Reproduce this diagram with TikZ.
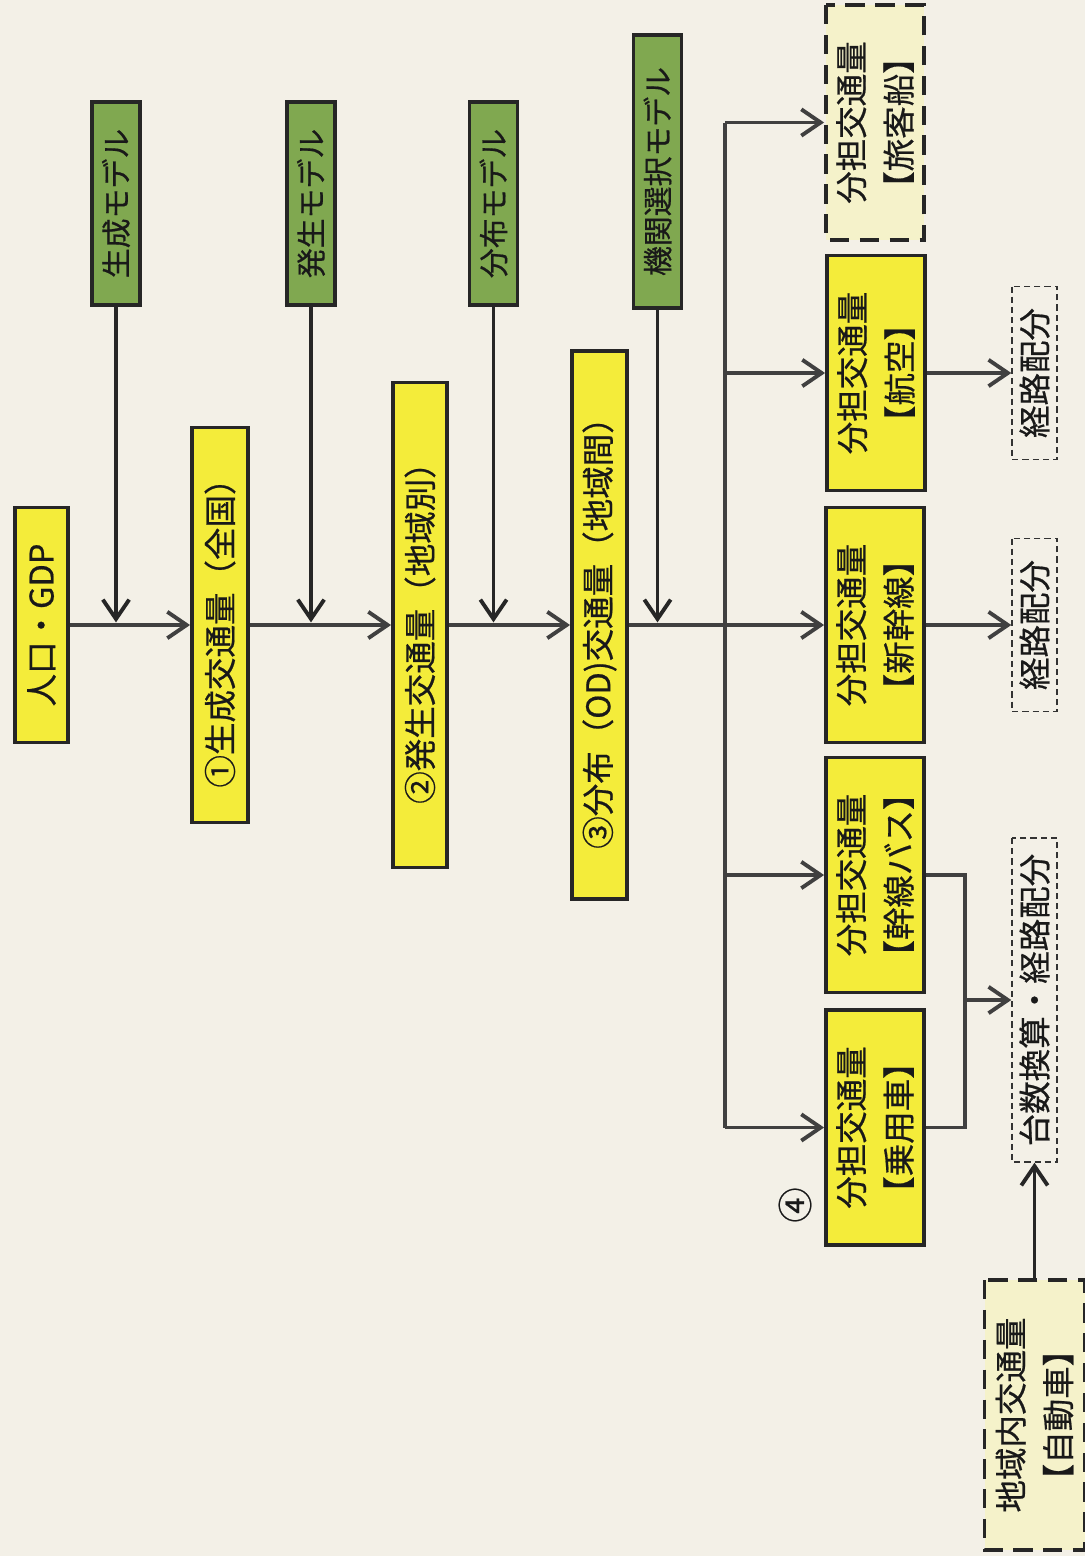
\documentclass[tikz,border=0pt]{standalone}
\usepackage{fontspec}
\setmainfont{Noto Sans CJK JP}[BoldFont=Noto Sans CJK JP,BoldFeatures={FakeBold=0.6}]
\usepackage{xcolor}
\usetikzlibrary{arrows.meta}

\definecolor{paper}{RGB}{243,240,231}
\definecolor{boxyellow}{RGB}{244,236,58}
\definecolor{paleyellow}{RGB}{245,242,202}
\definecolor{modelgreen}{RGB}{128,168,80}
\definecolor{linegray}{RGB}{64,64,64}

\begin{document}
\begin{tikzpicture}[x=0.02cm,y=-0.02cm,
  every node/.style={rotate=90,inner sep=0pt,align=center,text=black!90},
  ybox/.style={draw=black!85,line width=2.2pt,fill=boxyellow,
    font=\fontsize{18.5}{27}\selectfont\bfseries},
  gbox/.style={draw=black!85,line width=2.2pt,fill=modelgreen,
    minimum height=0.96cm,minimum width=4.06cm,font=\fontsize{17}{20}\selectfont\bfseries},
  modebox/.style={ybox,minimum height=1.96cm,minimum width=4.7cm},
  pbox/.style={draw=black!85,line width=2.2pt,dash pattern=on 11pt off 6pt,
    fill=paleyellow,minimum height=1.96cm,minimum width=4.7cm,
    font=\fontsize{18.5}{27}\selectfont\bfseries},
  rbox/.style={draw=black!80,line width=0.8pt,dash pattern=on 3.5pt off 2.3pt,
    fill=paper,minimum height=0.9cm,font=\fontsize{18.5}{22}\selectfont\bfseries},
  conn/.style={draw=linegray,line width=2.2pt},
  arr/.style={conn,-{Straight Barb[length=11pt,width=15pt]}}]

  \fill[paper] (0,0) rectangle (1085,1556);
  \useasboundingbox (0,0) rectangle (1085,1556);

  % main chain
  \node[ybox,minimum width=4.7cm,minimum height=1.06cm] (pop) at (41.5,625) {人口・GDP};
  \node[ybox,minimum width=7.9cm,minimum height=1.12cm] (gen) at (220,625) {①生成交通量（全国）};
  \node[ybox,minimum width=9.7cm,minimum height=1.08cm] (has) at (420,625) {②発生交通量（地域別）};
  \node[ybox,minimum width=10.96cm,minimum height=1.1cm] (od) at (599.5,625) {③分布（OD)交通量（地域間）};

  % models
  \node[gbox] (genm) at (116,203.5) {生成モデル};
  \node[gbox] (hasm) at (311,203.5) {発生モデル};
  \node[gbox] (bunm) at (493.5,203.5) {分布モデル};
  \node[gbox,minimum width=5.46cm] (kikm) at (657.5,171.5) {機関選択モデル};

  % modes
  \node[pbox] (ship) at (875,122.5) {分担交通量\\【旅客船】};
  \node[modebox] (air) at (876,373) {分担交通量\\【航空】};
  \node[modebox] (shin) at (875,625) {分担交通量\\【新幹線】};
  \node[modebox] (bus) at (875,875) {分担交通量\\【幹線バス】};
  \node[modebox] (car) at (875,1127.5) {分担交通量\\【乗用車】};
  \node[font=\fontsize{20}{22}\selectfont\bfseries] (num4) at (795,1205) {④};

  % assignment
  \node[rbox,minimum width=3.46cm] (route1) at (1034.5,373) {経路配分};
  \node[rbox,minimum width=3.46cm] (route2) at (1034.5,625) {経路配分};
  \node[rbox,minimum width=6.48cm] (route3) at (1034.5,1000) {台数換算・経路配分};
  \node[pbox,minimum height=2cm,minimum width=5.4cm] (local) at (1034.5,1415) {地域内交通量\\【自動車】};

  \coordinate (trunk) at (725,625);
  \coordinate (loop) at (965,875);

  % connectors
  \draw[arr] (pop) -- (gen);
  \draw[arr] (gen) -- (has);
  \draw[arr] (has) -- (od);
  \draw[arr] (od) -- (shin);
  \foreach \m in {genm,hasm,bunm,kikm}
    \draw[arr,draw=black!85,shorten >=1.5pt] (\m) -- (\m |- pop);

  \draw[conn] (trunk |- ship) -- (trunk |- car);
  \foreach \m in {ship,air,bus,car}
    \draw[arr] (trunk |- \m) -- (\m);

  \draw[arr] (air) -- (route1);
  \draw[arr] (shin) -- (route2);
  \draw[conn] (bus) -- (loop |- bus) -- (loop |- car) -- (car);
  \draw[arr] (loop |- route3) -- (route3);
  \draw[arr,draw=black!85] (local) -- (route3);
\end{tikzpicture}
\end{document}
